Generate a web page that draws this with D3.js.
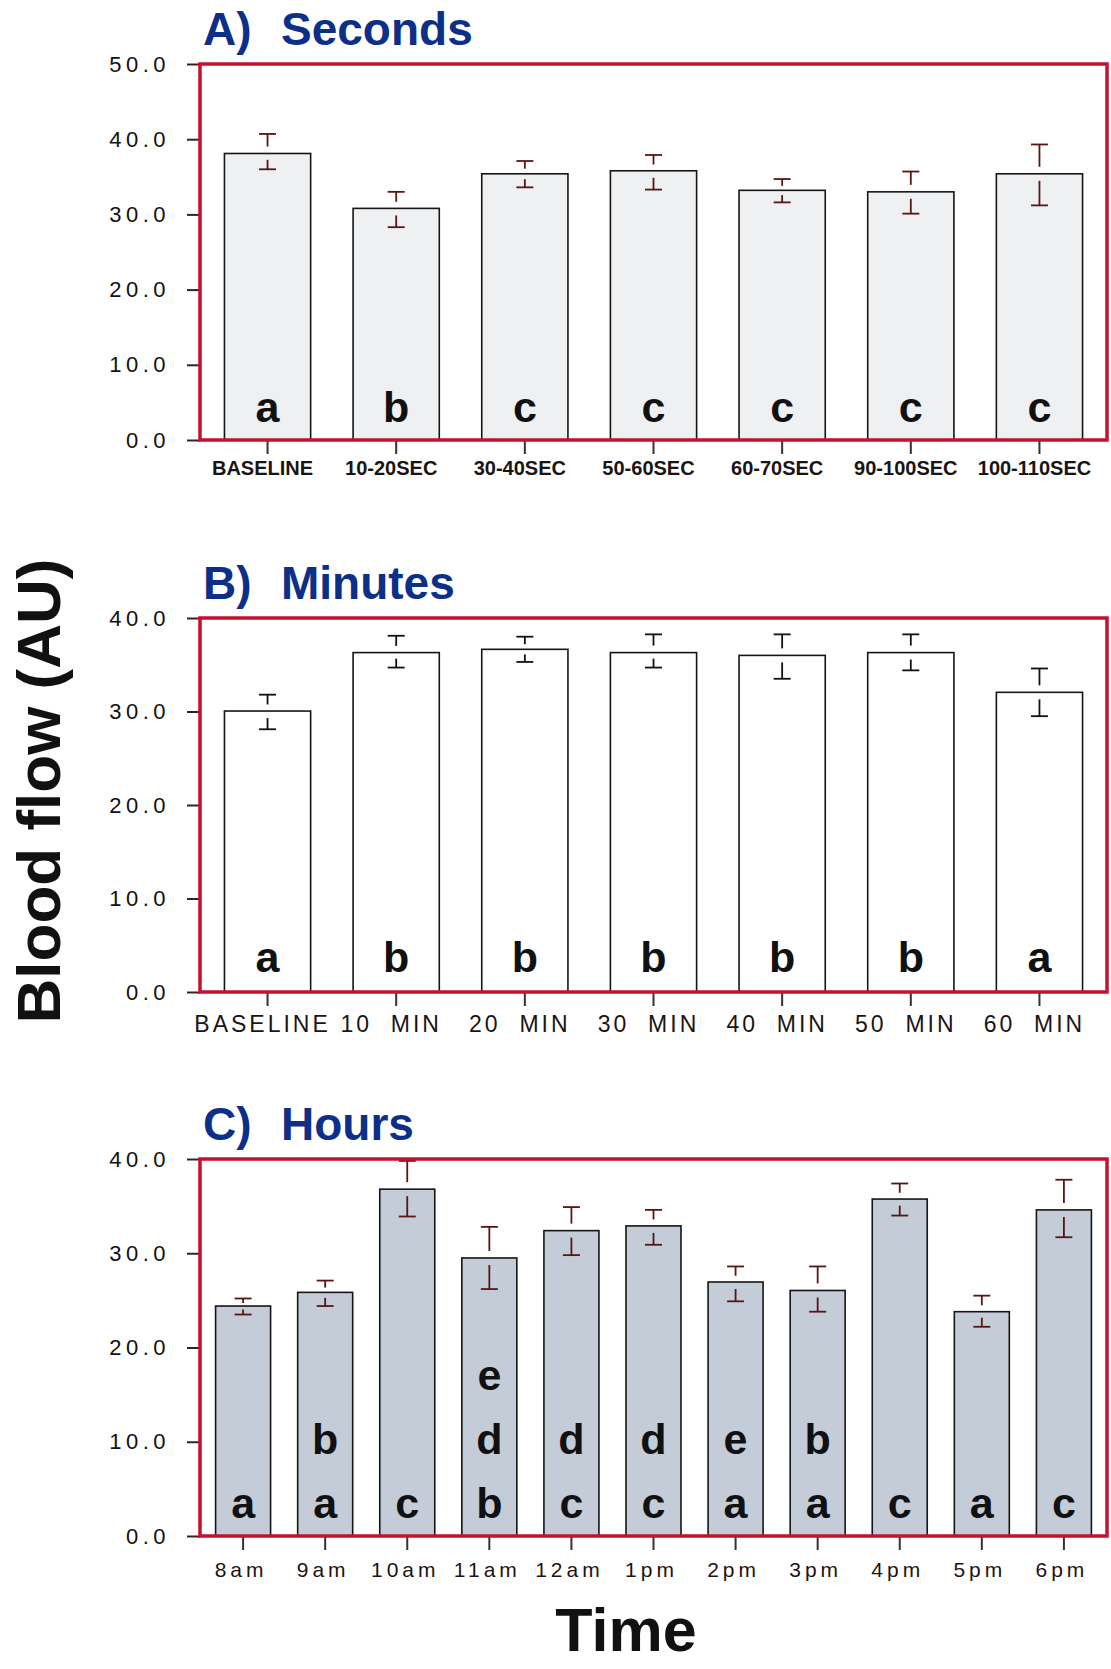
<!DOCTYPE html>
<html>
<head>
<meta charset="utf-8">
<script src="https://cdn.jsdelivr.net/npm/d3@7"></script>
<style>
body{margin:0;background:#fff;}
svg{display:block;font-family:"Liberation Sans",Arial,Helvetica,sans-serif;}
</style>
</head>
<body>
<div id="chart"></div>
<script>
var width = 1111
var height = 1669
var frameLeft = 200
var frameRight = 1107

// A) Seconds
var secCategories = ["BASELINE","10-20SEC","30-40SEC","50-60SEC","60-70SEC","90-100SEC","100-110SEC"]
var secMeans = [38.1,30.8,35.4,35.8,33.2,33.0,35.4]
var secHi = [40.7,33.0,37.1,37.9,34.7,35.7,39.3]
var secLo = [36.0,28.3,33.6,33.3,31.6,30.1,31.2]
var secLetters = [["a"],["b"],["c"],["c"],["c"],["c"],["c"]]
var secTicks = [0,10,20,30,40,50]

// B) Minutes
var minCategories = ["BASELINE","10  MIN","20  MIN","30  MIN","40  MIN","50  MIN","60  MIN"]
var minMeans = [30.05,36.3,36.65,36.3,36.0,36.3,32.05]
var minHi = [31.8,38.1,38.0,38.25,38.25,38.25,34.6]
var minLo = [28.1,34.7,35.3,34.7,33.5,34.4,29.5]
var minLetters = [["a"],["b"],["b"],["b"],["b"],["b"],["a"]]
var minTicks = [0,10,20,30,40]

// C) Hours
var hourCategories = ["8am","9am","10am","11am","12am","1pm","2pm","3pm","4pm","5pm","6pm"]
var hourMeans = [24.4,25.85,36.8,29.5,32.4,32.9,26.95,26.05,35.75,23.8,34.6]
var hourHi = [25.2,27.1,39.8,32.8,34.9,34.6,28.6,28.6,37.4,25.5,37.8]
var hourLo = [23.5,24.4,33.9,26.2,29.8,30.9,24.9,23.8,34.0,22.2,31.7]
var hourLetters = [["a"],["a","b"],["c"],["b","d","e"],["c","d"],["c","d"],["a","e"],["a","b"],["c"],["a"],["c"]]
var hourTicks = [0,10,20,30,40]

var red = "#c8102e"
var blue = "#0c2f87"
var fmt = d3.format(".1f")

var svg = d3.select("#chart")
    .append("svg")
    .attr("width", width)
    .attr("height", height)

function panel(p) {
    var x = d3.scaleBand().domain(p.categories).range([frameLeft, frameRight])
        .paddingInner(0.33).paddingOuter(0.19)
    var y = d3.scaleLinear().domain([0, d3.max(p.ticks)]).range([p.bottom, p.top])
    var g = svg.append("g")

    // title
    var t = g.append("text")
        .attr("y", p.top - 19)
        .attr("fill", blue)
        .style("font-size", "46px")
        .style("font-weight", "bold")
    t.append("tspan").attr("x", 203).text(p.letter)
    t.append("tspan").attr("x", 281).text(p.title)

    // bars
    var rows = p.categories.map(function(c, i) {
        return {cat: c, mean: p.means[i], hi: p.hi[i], lo: p.lo[i], letters: p.letters[i]}
    })
    g.selectAll(".bar").data(rows).enter().append("rect")
        .attr("x", function(d) { return x(d.cat) })
        .attr("y", function(d) { return y(d.mean) })
        .attr("width", x.bandwidth())
        .attr("height", function(d) { return y(0) - y(d.mean) })
        .attr("fill", p.fill)
        .attr("stroke", "#151515")
        .attr("stroke-width", 1.6)

    // error bars, drawn as T above and inverted T below with a gap at the bar top
    var capW = 17
    var eb = g.selectAll(".err").data(rows).enter().append("g")
        .attr("stroke", p.errColor)
        .attr("stroke-width", 1.8)
    eb.each(function(d) {
        var cx = x(d.cat) + x.bandwidth() / 2
        var s = d3.select(this)
        var up = y(d.mean) - y(d.hi), dn = y(d.lo) - y(d.mean)
        var gu = Math.min(7, up * 0.4), gd = Math.min(7, dn * 0.4)
        s.append("line").attr("x1", cx - capW/2).attr("x2", cx + capW/2).attr("y1", y(d.hi)).attr("y2", y(d.hi))
        s.append("line").attr("x1", cx).attr("x2", cx).attr("y1", y(d.hi)).attr("y2", y(d.mean) - gu)
        s.append("line").attr("x1", cx - capW/2).attr("x2", cx + capW/2).attr("y1", y(d.lo)).attr("y2", y(d.lo))
        s.append("line").attr("x1", cx).attr("x2", cx).attr("y1", y(d.lo)).attr("y2", y(d.mean) + gd)
    })

    // significance letters, stacked from the bottom
    rows.forEach(function(d) {
        d.letters.forEach(function(l, k) {
            g.append("text")
                .attr("x", x(d.cat) + x.bandwidth() / 2)
                .attr("y", y(0) - p.letterBase - k * 64)
                .attr("text-anchor", "middle")
                .attr("fill", "#111")
                .style("font-size", "43px")
                .style("font-weight", "bold")
                .text(l)
        })
    })

    // y axis
    var ya = g.append("g")
        .attr("transform", "translate(" + frameLeft + ",0)")
        .call(d3.axisLeft(y).tickValues(p.ticks).tickFormat(fmt).tickSize(13).tickPadding(17))
    ya.select(".domain").remove()
    ya.selectAll("line").attr("stroke", "#3a2020").attr("stroke-width", 2)
    ya.selectAll("text")
        .attr("fill", "#111")
        .style("font-size", "22px")
        .style("letter-spacing", "4.5px")
        .style("font-family", "'Liberation Sans', Arial, sans-serif")

    // x axis
    var xa = g.append("g")
        .attr("transform", "translate(0," + p.bottom + ")")
        .call(d3.axisBottom(x).tickSize(14))
    xa.select(".domain").remove()
    xa.selectAll("line").attr("stroke", "#333").attr("stroke-width", 2)
    xa.selectAll("text")
        .attr("x", p.labelShift)
        .attr("y", p.labelY)
        .attr("dy", 0)
        .attr("fill", p.labelColor)
        .style("font-family", "'Liberation Sans', Arial, sans-serif")
        .style("font-size", p.labelSize)
        .style("font-weight", p.labelWeight)
        .style("letter-spacing", p.labelSpacing)
        .style("white-space", "pre")

    // red frame
    g.append("rect")
        .attr("x", frameLeft)
        .attr("y", p.top)
        .attr("width", frameRight - frameLeft)
        .attr("height", p.bottom - p.top)
        .attr("fill", "none")
        .attr("stroke", red)
        .attr("stroke-width", 3.5)
}

panel({letter: "A)", title: "Seconds", categories: secCategories, means: secMeans, hi: secHi, lo: secLo,
    letters: secLetters, ticks: secTicks, top: 64, bottom: 440, fill: "#eff0f2", errColor: "#5a1414",
    letterBase: 18, labelY: 35, labelShift: -5, labelSize: "20px", labelWeight: "bold", labelSpacing: "0px", labelColor: "#1a1414"})

panel({letter: "B)", title: "Minutes", categories: minCategories, means: minMeans, hi: minHi, lo: minLo,
    letters: minLetters, ticks: minTicks, top: 618, bottom: 992, fill: "#ffffff", errColor: "#111",
    letterBase: 20, labelY: 40, labelShift: -5, labelSize: "23px", labelWeight: "normal", labelSpacing: "3px", labelColor: "#1a1414"})

panel({letter: "C)", title: "Hours", categories: hourCategories, means: hourMeans, hi: hourHi, lo: hourLo,
    letters: hourLetters, ticks: hourTicks, top: 1159, bottom: 1536, fill: "#c4ccd8", errColor: "#5a1414",
    letterBase: 18, labelY: 41, labelShift: -2, labelSize: "21px", labelWeight: "normal", labelSpacing: "4px", labelColor: "#1f1212"})

// shared axis titles
svg.append("text")
    .attr("transform", "translate(60,791) rotate(-90)")
    .attr("text-anchor", "middle")
    .attr("fill", "#111")
    .style("font-size", "62px")
    .style("font-weight", "bold")
    .text("Blood flow (AU)")

svg.append("text")
    .attr("x", 626)
    .attr("y", 1651)
    .attr("text-anchor", "middle")
    .attr("fill", "#111")
    .style("font-size", "61px")
    .style("font-weight", "bold")
    .text("Time")
</script>
</body>
</html>
